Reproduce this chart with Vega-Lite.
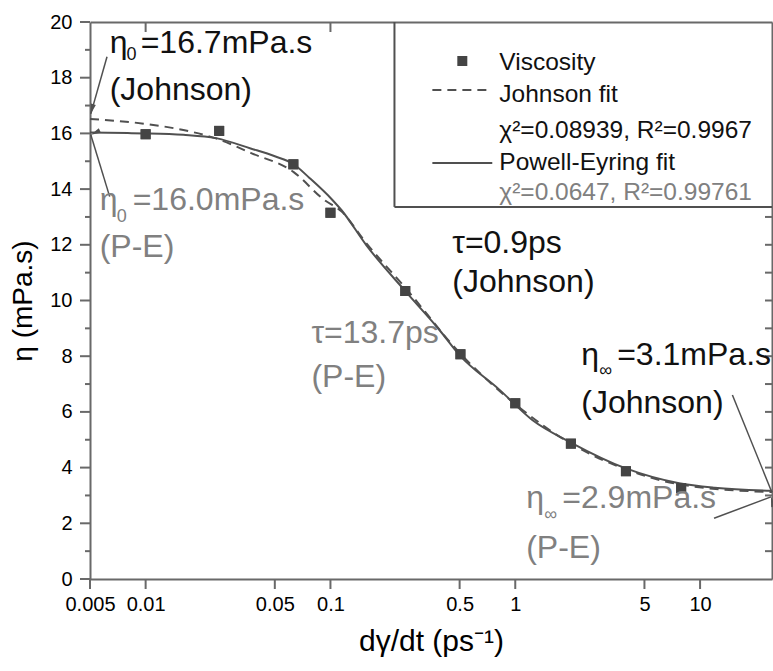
{
  "$schema": "https://vega.github.io/schema/vega-lite/v6.json",
  "width": 682,
  "height": 557,
  "autosize": "none",
  "padding": {"left": 90, "top": 22, "right": 1, "bottom": 92},
  "background": "white",
  "config": {
    "view": {"stroke": null},
    "font": "Liberation Sans",
    "axis": {"grid": false, "labelColor": "black", "titleColor": "black", "titleFontWeight": "normal"}
  },
  "data": {"values": [
      {"x": 0.01, "y": 15.97}, {"x": 0.025, "y": 16.09}, {"x": 0.063, "y": 14.89}, {"x": 0.1, "y": 13.15},
      {"x": 0.254, "y": 10.34}, {"x": 0.505, "y": 8.07}, {"x": 1.0, "y": 6.31}, {"x": 2.0, "y": 4.86},
      {"x": 3.97, "y": 3.87}, {"x": 7.9, "y": 3.26}
  ]},
  "datasets": {
    "bottomTicks": [{"v": 0.005}, {"v": 0.01}, {"v": 0.05}, {"v": 0.1}, {"v": 0.5}, {"v": 1}, {"v": 5}, {"v": 10}],
    "topTicks": [{"v": 0.01}, {"v": 0.1}],
    "leftMajor": [{"v": 0}, {"v": 2}, {"v": 4}, {"v": 6}, {"v": 8}, {"v": 10}, {"v": 12}, {"v": 14}, {"v": 16}, {"v": 18}, {"v": 20}],
    "leftMinor": [{"v": 1}, {"v": 3}, {"v": 5}, {"v": 7}, {"v": 9}, {"v": 11}, {"v": 13}, {"v": 15}, {"v": 17}, {"v": 19}],
    "rightTicks": [{"v": 1}, {"v": 2}, {"v": 3}, {"v": 4}, {"v": 5}, {"v": 6}, {"v": 7}, {"v": 8}, {"v": 9}, {"v": 10}, {"v": 11}, {"v": 12}, {"v": 13}],
    "pe": [
      {"x": 0.005, "y": 16.03}, {"x": 0.008, "y": 16.01}, {"x": 0.01, "y": 16.0}, {"x": 0.016, "y": 15.95},
      {"x": 0.024, "y": 15.83}, {"x": 0.037, "y": 15.46}, {"x": 0.05, "y": 15.18}, {"x": 0.063, "y": 14.9},
      {"x": 0.077, "y": 14.4}, {"x": 0.1025, "y": 13.61}, {"x": 0.1146, "y": 13.25}, {"x": 0.1566, "y": 11.98},
      {"x": 0.257, "y": 10.3}, {"x": 0.388, "y": 8.95}, {"x": 0.498, "y": 8.05}, {"x": 0.82, "y": 6.8},
      {"x": 1.236, "y": 5.71}, {"x": 2.0, "y": 4.9}, {"x": 3.97, "y": 3.97}, {"x": 7.7, "y": 3.44},
      {"x": 12.0, "y": 3.28}, {"x": 24.5, "y": 3.17}
    ],
    "johnson": [
      {"x": 0.005, "y": 16.52}, {"x": 0.01, "y": 16.34}, {"x": 0.016, "y": 16.12}, {"x": 0.024, "y": 15.82},
      {"x": 0.037, "y": 15.3}, {"x": 0.063, "y": 14.62}, {"x": 0.093, "y": 13.6}, {"x": 0.1146, "y": 13.2},
      {"x": 0.1566, "y": 12.05}, {"x": 0.257, "y": 10.42}, {"x": 0.5, "y": 8.12}, {"x": 1.0, "y": 6.28},
      {"x": 2.0, "y": 4.86}, {"x": 4.0, "y": 3.93}, {"x": 8.0, "y": 3.38}, {"x": 24.5, "y": 3.12}
    ],
    "arrows": [
      {"arrow": "a1", "x": 0.00618, "y": 18.75, "x2": 0.00505, "y2": 16.7},
      {"arrow": "a2", "x": 0.00639, "y": 13.73, "x2": 0.00505, "y2": 15.95},
      {"arrow": "a3", "x": 14.96, "y": 6.61, "x2": 24.3, "y2": 3.16},
      {"arrow": "a4", "x": 11.9, "y": 2.18, "x2": 24.2, "y2": 2.95}
    ],
    "legendEdges": [
      {"x": 0.222, "y": 13.36, "x2": 0.222, "y2": 20},
      {"x": 0.222, "y": 13.36, "x2": 24.5, "y2": 13.36}
    ],
    "legendSolid": [{"x": 0.356, "y": 14.94}, {"x": 0.751, "y": 14.94}],
    "legendDash": [{"x": 0.356, "y": 17.56}, {"x": 0.751, "y": 17.56}],
    "legendSquare": [{"x": 0.517, "y": 18.6}],
    "legendTextBlack": [
      {"x": 0.82, "y": 18.28, "t": "Viscosity"},
      {"x": 0.82, "y": 17.13, "t": "Johnson fit"},
      {"x": 0.82, "y": 15.83, "t": "χ²=0.08939, R²=0.9967"},
      {"x": 0.82, "y": 14.69, "t": "Powell-Eyring fit"}
    ],
    "legendTextGray": [
      {"x": 0.82, "y": 13.61, "t": "χ²=0.0647, R²=0.99761"}
    ],
    "noteBlack": [
      {"x": 0.00639, "y": 18.89, "t": "η"},
      {"x": 0.0094, "y": 18.89, "t": "=16.7mPa.s"},
      {"x": 0.00639, "y": 17.2, "t": "(Johnson)"},
      {"x": 0.456, "y": 11.7, "t": "τ=0.9ps"},
      {"x": 0.456, "y": 10.3, "t": "(Johnson)"},
      {"x": 2.275, "y": 7.68, "t": "η"},
      {"x": 3.56, "y": 7.68, "t": "=3.1mPa.s"},
      {"x": 2.275, "y": 5.96, "t": "(Johnson)"}
    ],
    "noteGray": [
      {"x": 0.00564, "y": 13.25, "t": "η"},
      {"x": 0.00851, "y": 13.25, "t": "=16.0mPa.s"},
      {"x": 0.00564, "y": 11.56, "t": "(P-E)"},
      {"x": 0.0789, "y": 8.47, "t": "τ=13.7ps"},
      {"x": 0.0789, "y": 6.9, "t": "(P-E)"},
      {"x": 1.146, "y": 2.55, "t": "η"},
      {"x": 1.795, "y": 2.55, "t": "=2.9mPa.s"},
      {"x": 1.146, "y": 0.75, "t": "(P-E)"}
    ],
    "subBlack": [
      {"x": 0.00789, "y": 18.64, "t": "0"},
      {"x": 2.845, "y": 7.29, "t": "∞"}
    ],
    "subGray": [
      {"x": 0.00697, "y": 12.82, "t": "0"},
      {"x": 1.435, "y": 2.12, "t": "∞"}
    ]
  },
  "resolve": {"axis": {"x": "independent", "y": "independent"}},
  "layer": [
    {
      "mark": {"type": "point", "shape": "square", "filled": true, "size": 100, "color": "#444444", "opacity": 1},
      "encoding": {
        "x": {"field": "x", "type": "quantitative", "scale": {"type": "log", "domain": [0.005, 24.5], "nice": false},
          "axis": {"orient": "bottom", "values": [0.005, 0.01, 0.05, 0.1, 0.5, 1, 5, 10], "format": "~g", "labelFlush": false,
            "ticks": false, "domainColor": "dimgray", "domainWidth": 2,
            "labelFontSize": 20, "labelPadding": 15, "title": "dγ/dt (ps⁻¹)", "titleFontSize": 30, "titlePadding": 12}},
        "y": {"field": "y", "type": "quantitative", "scale": {"domain": [0, 20], "nice": false, "zero": false},
          "axis": {"orient": "left", "values": [0,2,4,6,8,10,12,14,16,18,20],
            "ticks": false, "domainColor": "dimgray", "domainWidth": 2,
            "labelFontSize": 20, "labelPadding": 18, "title": "η (mPa.s)", "titleFontSize": 28, "titlePadding": 12}}
      }
    },
    {
      "mark": {"type": "point", "opacity": 0},
      "encoding": {
        "x": {"field": "x", "type": "quantitative", "scale": {"type": "log", "domain": [0.005, 24.5], "nice": false},
          "axis": {"orient": "top", "values": [0.01, 0.1], "labels": false, "ticks": false, "domainColor": "dimgray", "domainWidth": 2, "title": null}},
        "y": {"field": "y", "type": "quantitative", "scale": {"domain": [0, 20], "nice": false, "zero": false},
          "axis": {"orient": "right", "values": [0, 10], "labels": false, "ticks": false, "domainColor": "dimgray", "domainWidth": 2, "title": null}}
      }
    },
    {
      "data": {"name": "bottomTicks"},
      "mark": {"type": "tick", "orient": "vertical", "size": 10, "thickness": 2, "color": "dimgray", "opacity": 1, "yOffset": 5},
      "encoding": {
        "x": {"field": "v", "type": "quantitative", "scale": {"type": "log", "domain": [0.005, 24.5], "nice": false}, "axis": null},
        "y": {"datum": 0, "type": "quantitative", "scale": {"domain": [0, 20], "nice": false, "zero": false}, "axis": null}
      }
    },
    {
      "data": {"name": "topTicks"},
      "mark": {"type": "tick", "orient": "vertical", "size": 10, "thickness": 2, "color": "dimgray", "opacity": 1, "yOffset": 5},
      "encoding": {
        "x": {"field": "v", "type": "quantitative", "scale": {"type": "log", "domain": [0.005, 24.5], "nice": false}, "axis": null},
        "y": {"datum": 20, "type": "quantitative", "scale": {"domain": [0, 20], "nice": false, "zero": false}, "axis": null}
      }
    },
    {
      "data": {"name": "leftMajor"},
      "mark": {"type": "tick", "orient": "horizontal", "size": 10, "thickness": 2, "color": "dimgray", "opacity": 1, "xOffset": -5},
      "encoding": {
        "x": {"datum": 0.005, "type": "quantitative", "scale": {"type": "log", "domain": [0.005, 24.5], "nice": false}, "axis": null},
        "y": {"field": "v", "type": "quantitative", "scale": {"domain": [0, 20], "nice": false, "zero": false}, "axis": null}
      }
    },
    {
      "data": {"name": "leftMinor"},
      "mark": {"type": "tick", "orient": "horizontal", "size": 5, "thickness": 2, "color": "dimgray", "opacity": 1, "xOffset": -2.5},
      "encoding": {
        "x": {"datum": 0.005, "type": "quantitative", "scale": {"type": "log", "domain": [0.005, 24.5], "nice": false}, "axis": null},
        "y": {"field": "v", "type": "quantitative", "scale": {"domain": [0, 20], "nice": false, "zero": false}, "axis": null}
      }
    },
    {
      "data": {"name": "rightTicks"},
      "mark": {"type": "tick", "orient": "horizontal", "size": 7, "thickness": 2, "color": "dimgray", "opacity": 1, "xOffset": -3.5},
      "encoding": {
        "x": {"datum": 24.5, "type": "quantitative", "scale": {"type": "log", "domain": [0.005, 24.5], "nice": false}, "axis": null},
        "y": {"field": "v", "type": "quantitative", "scale": {"domain": [0, 20], "nice": false, "zero": false}, "axis": null}
      }
    },
    {
      "data": {"name": "pe"},
      "mark": {"type": "line", "color": "#505050", "strokeWidth": 2, "interpolate": "monotone"},
      "encoding": {
        "x": {"field": "x", "type": "quantitative", "scale": {"type": "log", "domain": [0.005, 24.5], "nice": false}, "axis": null},
        "y": {"field": "y", "type": "quantitative", "scale": {"domain": [0, 20], "nice": false, "zero": false}, "axis": null}
      }
    },
    {
      "data": {"name": "johnson"},
      "mark": {"type": "line", "color": "#505050", "strokeWidth": 2, "strokeDash": [9, 6], "interpolate": "monotone"},
      "encoding": {
        "x": {"field": "x", "type": "quantitative", "scale": {"type": "log", "domain": [0.005, 24.5], "nice": false}, "axis": null},
        "y": {"field": "y", "type": "quantitative", "scale": {"domain": [0, 20], "nice": false, "zero": false}, "axis": null}
      }
    },
    {
      "mark": {"type": "point", "shape": "square", "filled": true, "size": 100, "color": "#444444", "opacity": 1},
      "encoding": {
        "x": {"field": "x", "type": "quantitative", "scale": {"type": "log", "domain": [0.005, 24.5], "nice": false}, "axis": null},
        "y": {"field": "y", "type": "quantitative", "scale": {"domain": [0, 20], "nice": false, "zero": false}, "axis": null}
      }
    },
    {
      "data": {"name": "arrows"},
      "mark": {"type": "rule", "color": "#505050", "strokeWidth": 1.5},
      "encoding": {
        "x": {"field": "x", "type": "quantitative", "scale": {"type": "log", "domain": [0.005, 24.5], "nice": false}, "axis": null},
        "y": {"field": "y", "type": "quantitative", "scale": {"domain": [0, 20], "nice": false, "zero": false}, "axis": null},
        "x2": {"field": "x2"}, "y2": {"field": "y2"}
      }
    },
    {
      "data": {"name": "arrows"},
      "mark": {"type": "point", "shape": "M0,0L0.5,2L-0.5,2Z", "filled": true, "size": 100, "color": "#505050", "opacity": 1},
      "encoding": {
        "x": {"field": "x2", "type": "quantitative", "scale": {"type": "log", "domain": [0.005, 24.5], "nice": false}, "axis": null},
        "y": {"field": "y2", "type": "quantitative", "scale": {"domain": [0, 20], "nice": false, "zero": false}, "axis": null},
        "angle": {"field": "arrow", "type": "nominal", "scale": {"domain": ["a1", "a2", "a3", "a4"], "range": [195, 345, 158, 68]}, "legend": null}
      }
    },
    {
      "data": {"name": "legendEdges"},
      "mark": {"type": "rule", "color": "#505050", "strokeWidth": 2},
      "encoding": {
        "x": {"field": "x", "type": "quantitative", "scale": {"type": "log", "domain": [0.005, 24.5], "nice": false}, "axis": null},
        "y": {"field": "y", "type": "quantitative", "scale": {"domain": [0, 20], "nice": false, "zero": false}, "axis": null},
        "x2": {"field": "x2"}, "y2": {"field": "y2"}
      }
    },
    {
      "data": {"name": "legendSolid"},
      "mark": {"type": "line", "color": "#505050", "strokeWidth": 2},
      "encoding": {
        "x": {"field": "x", "type": "quantitative", "scale": {"type": "log", "domain": [0.005, 24.5], "nice": false}, "axis": null},
        "y": {"field": "y", "type": "quantitative", "scale": {"domain": [0, 20], "nice": false, "zero": false}, "axis": null}
      }
    },
    {
      "data": {"name": "legendDash"},
      "mark": {"type": "line", "color": "#505050", "strokeWidth": 2, "strokeDash": [9, 6]},
      "encoding": {
        "x": {"field": "x", "type": "quantitative", "scale": {"type": "log", "domain": [0.005, 24.5], "nice": false}, "axis": null},
        "y": {"field": "y", "type": "quantitative", "scale": {"domain": [0, 20], "nice": false, "zero": false}, "axis": null}
      }
    },
    {
      "data": {"name": "legendSquare"},
      "mark": {"type": "point", "shape": "square", "filled": true, "size": 100, "color": "#444444", "opacity": 1},
      "encoding": {
        "x": {"field": "x", "type": "quantitative", "scale": {"type": "log", "domain": [0.005, 24.5], "nice": false}, "axis": null},
        "y": {"field": "y", "type": "quantitative", "scale": {"domain": [0, 20], "nice": false, "zero": false}, "axis": null}
      }
    },
    {
      "data": {"name": "legendTextBlack"},
      "mark": {"type": "text", "align": "left", "baseline": "alphabetic", "fontSize": 24.5, "color": "#111111"},
      "encoding": {
        "x": {"field": "x", "type": "quantitative", "scale": {"type": "log", "domain": [0.005, 24.5], "nice": false}, "axis": null},
        "y": {"field": "y", "type": "quantitative", "scale": {"domain": [0, 20], "nice": false, "zero": false}, "axis": null},
        "text": {"field": "t"}
      }
    },
    {
      "data": {"name": "legendTextGray"},
      "mark": {"type": "text", "align": "left", "baseline": "alphabetic", "fontSize": 24.5, "color": "#808080"},
      "encoding": {
        "x": {"field": "x", "type": "quantitative", "scale": {"type": "log", "domain": [0.005, 24.5], "nice": false}, "axis": null},
        "y": {"field": "y", "type": "quantitative", "scale": {"domain": [0, 20], "nice": false, "zero": false}, "axis": null},
        "text": {"field": "t"}
      }
    },
    {
      "data": {"name": "noteBlack"},
      "mark": {"type": "text", "align": "left", "baseline": "alphabetic", "fontSize": 32, "color": "#111111"},
      "encoding": {
        "x": {"field": "x", "type": "quantitative", "scale": {"type": "log", "domain": [0.005, 24.5], "nice": false}, "axis": null},
        "y": {"field": "y", "type": "quantitative", "scale": {"domain": [0, 20], "nice": false, "zero": false}, "axis": null},
        "text": {"field": "t"}
      }
    },
    {
      "data": {"name": "noteGray"},
      "mark": {"type": "text", "align": "left", "baseline": "alphabetic", "fontSize": 32, "color": "#808080"},
      "encoding": {
        "x": {"field": "x", "type": "quantitative", "scale": {"type": "log", "domain": [0.005, 24.5], "nice": false}, "axis": null},
        "y": {"field": "y", "type": "quantitative", "scale": {"domain": [0, 20], "nice": false, "zero": false}, "axis": null},
        "text": {"field": "t"}
      }
    },
    {
      "data": {"name": "subBlack"},
      "mark": {"type": "text", "align": "left", "baseline": "alphabetic", "fontSize": 18, "color": "#111111"},
      "encoding": {
        "x": {"field": "x", "type": "quantitative", "scale": {"type": "log", "domain": [0.005, 24.5], "nice": false}, "axis": null},
        "y": {"field": "y", "type": "quantitative", "scale": {"domain": [0, 20], "nice": false, "zero": false}, "axis": null},
        "text": {"field": "t"}
      }
    },
    {
      "data": {"name": "subGray"},
      "mark": {"type": "text", "align": "left", "baseline": "alphabetic", "fontSize": 18, "color": "#808080"},
      "encoding": {
        "x": {"field": "x", "type": "quantitative", "scale": {"type": "log", "domain": [0.005, 24.5], "nice": false}, "axis": null},
        "y": {"field": "y", "type": "quantitative", "scale": {"domain": [0, 20], "nice": false, "zero": false}, "axis": null},
        "text": {"field": "t"}
      }
    }
  ]
}
